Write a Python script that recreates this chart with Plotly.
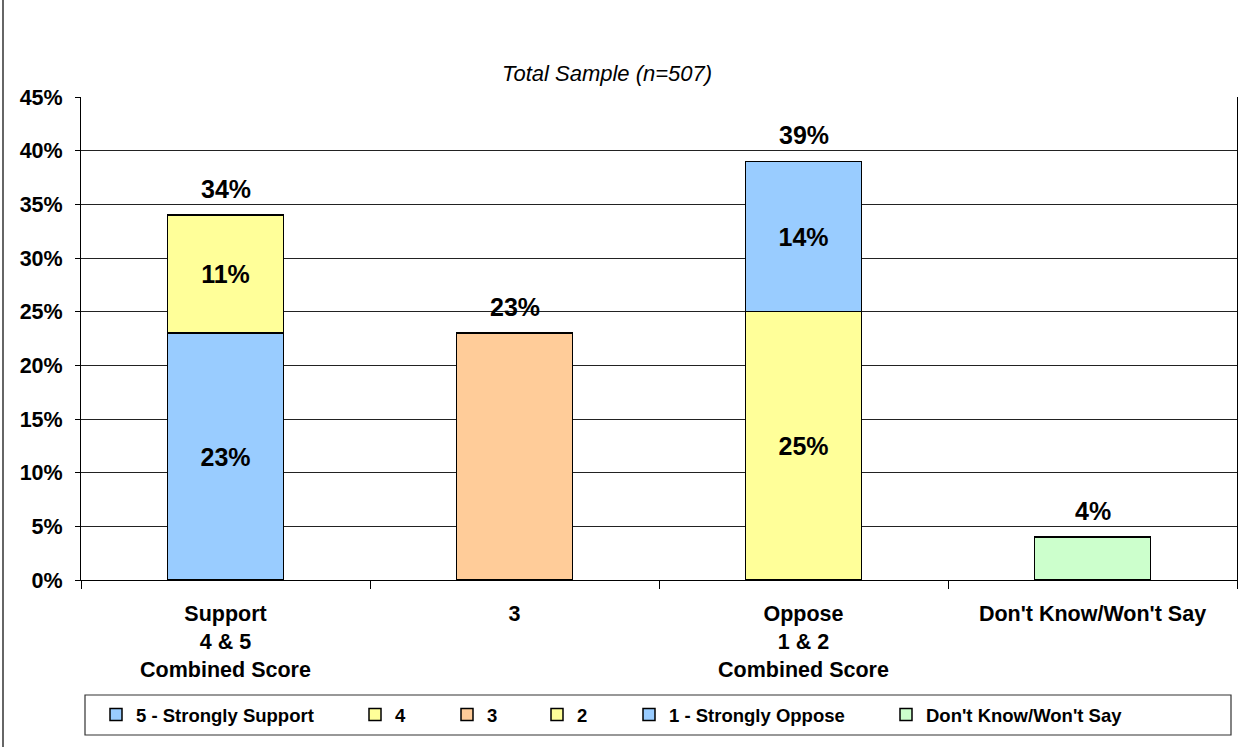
import plotly.graph_objects as go

categories = ["Support<br>4 & 5<br>Combined Score", "3", "Oppose<br>1 & 2<br>Combined Score", "Don't Know/Won't Say"]
series_names = ["5 - Strongly Support", "4", "3", "2", "1 - Strongly Oppose", "Don't Know/Won't Say"]
series_values = [
    [23, None, None, None],
    [11, None, None, None],
    [None, 23, None, None],
    [None, None, 25, None],
    [None, None, 14, None],
    [None, None, None, 4],
]
series_colors = ["#99CCFF", "#FFFF99", "#FFCC99", "#FFFF99", "#99CCFF", "#CCFFCC"]
inside_label = [True, True, False, True, True, False]
yticks = [0, 5, 10, 15, 20, 25, 30, 35, 40, 45]
title_text = "Total Sample (n=507)"

FONT = "Arial, Liberation Sans, sans-serif"

# layout geometry (pixels)
W, H = 1249, 747
L, R, T, B = 81, 12, 97, 167
PW = W - L - R
PH = H - T - B


def px_x(p):
    return (p - L) / PW


def px_y(p):
    return (H - B - p) / PH


fig = go.Figure()
legend_text_starts = [136, 395, 487, 577, 669, 926]
for i, (name, vals) in enumerate(zip(series_names, series_values)):
    lname = "legend" if i == 0 else f"legend{i + 1}"
    fig.add_trace(go.Bar(
        x=categories, y=vals, name=name,
        marker=dict(color=series_colors[i], line=dict(color="black", width=1.5)),
        width=0.4,
        text=[f"{v}%" if v is not None else None for v in vals] if inside_label[i] else None,
        textposition="inside" if inside_label[i] else "none",
        insidetextanchor="middle",
        textfont=dict(family=FONT, size=25, color="black", weight="bold"),
        legend=lname, showlegend=True,
        hoverinfo="skip",
    ))

totals = []
for c in range(len(categories)):
    totals.append(sum(v[c] for v in series_values if v[c] is not None))

for idx, t in enumerate(totals):
    fig.add_annotation(
        x=idx, y=t, xref="x", yref="y", text=f"{t}%", showarrow=False,
        yanchor="bottom", yshift=10,
        font=dict(family=FONT, size=25, color="black", weight="bold"),
    )

layout_legends = {}
for i in range(len(series_names)):
    lname = "legend" if i == 0 else f"legend{i + 1}"
    layout_legends[lname] = dict(
        x=px_x(legend_text_starts[i] - 40), y=px_y(715),
        xanchor="left", yanchor="middle", orientation="h",
        bgcolor="rgba(0,0,0,0)", borderwidth=0,
        font=dict(family=FONT, size=18.5, color="black", weight="bold"),
        itemwidth=30, visible=True,
    )

fig.update_layout(
    width=W, height=H,
    margin=dict(l=L, r=R, t=T, b=B, autoexpand=False),
    paper_bgcolor="white", plot_bgcolor="white",
    barmode="stack", showlegend=True,
    font=dict(family=FONT, color="black"),
    **layout_legends,
)

fig.update_yaxes(
    range=[0, 45], tickmode="array", tickvals=yticks, ticktext=[f"{v}%" for v in yticks],
    tickfont=dict(family=FONT, size=21.5, color="black", weight="bold"),
    showgrid=True, gridcolor="#222222", gridwidth=1,
    showline=True, linecolor="black", linewidth=1, mirror=True,
    ticks="outside", ticklen=5, tickcolor="black",
    ticklabelstandoff=8,
    zeroline=False,
)
fig.update_xaxes(
    tickfont=dict(family=FONT, size=21.5, color="black", weight="bold"),
    showline=True, linecolor="black", linewidth=1,
    ticks="outside", tickson="boundaries", ticklen=8, tickcolor="black",
    ticklabelstandoff=14,
)

fig.add_annotation(
    text=f"<i>{title_text}</i>", xref="paper", yref="paper",
    x=px_x(607), y=px_y(74), showarrow=False, yanchor="middle", xanchor="center",
    font=dict(family=FONT, size=22, color="black"),
)

# figure border (left edge) and legend frame
fig.add_shape(type="line", xref="paper", yref="paper",
              x0=px_x(3), x1=px_x(3), y0=px_y(0), y1=px_y(747),
              line=dict(color="#333333", width=1.5))
fig.add_shape(type="rect", xref="paper", yref="paper",
              x0=px_x(85), x1=px_x(1231), y0=px_y(695), y1=px_y(735),
              line=dict(color="#333333", width=1.2), fillcolor="rgba(0,0,0,0)")

fig.write_html(
    "out.html",
    config={"displayModeBar": False},
    post_script="document.body.style.margin='0';document.body.style.overflow='hidden';",
)
